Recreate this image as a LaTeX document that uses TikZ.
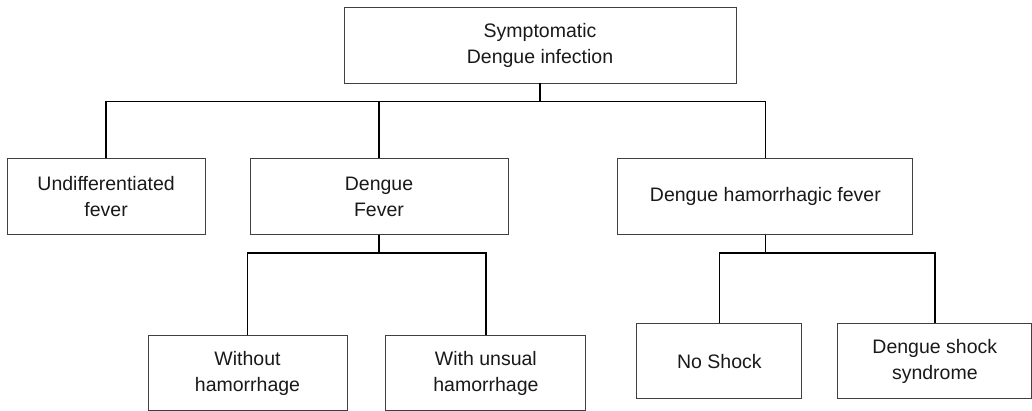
\documentclass[tikz,border=0pt]{standalone}
\usepackage{fontspec}
\setmainfont{Liberation Sans}
\usetikzlibrary{positioning}

\begin{document}
\begin{tikzpicture}[
    node distance=1cm,
    box/.style={rectangle, draw=black!75, line width=0.9pt, align=center, minimum height=76pt, inner sep=0pt, text=black!90, font=\fontsize{19.5}{26}\selectfont},
    conn/.style={draw=black, line width=1.8pt}
]
\useasboundingbox (0,0) rectangle (1032pt,-410pt);

% Top level
\node[box, minimum width=392pt] (top) at (540pt,-45pt) {Symptomatic\\Dengue infection};

% Second level
\node[box, minimum width=198pt, below left=75pt and 138pt of top] (undiff) {Undifferentiated\\fever};
\node[box, minimum width=258pt, right=44pt of undiff] (df) {Dengue\\Fever};
\node[box, minimum width=295pt, right=109pt of df] (dhf) {Dengue hamorrhagic fever};

% Third level
\node[box, minimum width=199pt, minimum height=75pt, below=100pt of df, xshift=-131.5pt] (without) {Without\\hamorrhage};
\node[box, minimum width=200pt, minimum height=75pt, right=38pt of without] (with) {With unsual\\hamorrhage};
\node[box, minimum width=165pt, minimum height=75pt, below=88pt of dhf, xshift=-46pt] (noshock) {No Shock};
\node[box, minimum width=194pt, minimum height=75pt, right=35pt of noshock] (dss) {Dengue shock\\syndrome};

% Connectors
\coordinate (bus) at ([yshift=-18pt]top.south);
\coordinate (dfbus) at ([yshift=-18pt]df.south);
\coordinate (dhfbus) at ([yshift=-18pt]dhf.south);

\draw[conn] (top.south) -- (bus);
\draw[conn] (undiff.north) |- (bus) -| (dhf.north);
\draw[conn] (df.north) -- (df.north |- bus);

\draw[conn] (df.south) -- (dfbus);
\draw[conn] (without.north) |- (dfbus) -| (with.north);

\draw[conn] (dhf.south) -- (dhfbus);
\draw[conn] (noshock.north) |- (dhfbus) -| (dss.north);

\end{tikzpicture}
\end{document}
